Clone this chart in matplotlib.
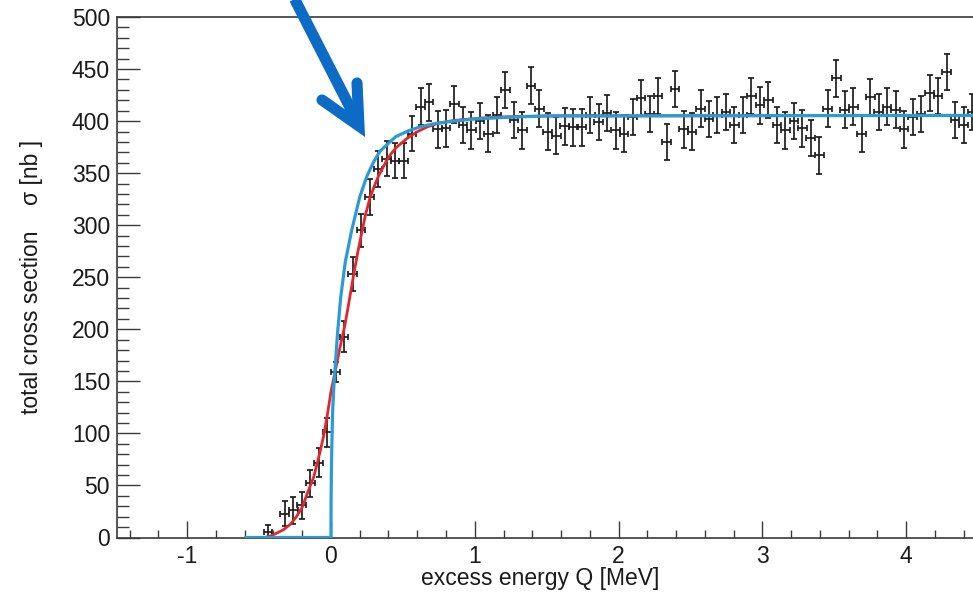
import matplotlib
matplotlib.use("Agg")
import matplotlib.pyplot as plt
from matplotlib.lines import Line2D
from matplotlib.ticker import MultipleLocator

plt.rcParams['font.family'] = ['Liberation Sans', 'DejaVu Sans']

# ---- data ----
q_points = [-0.439, -0.321, -0.262, -0.203, -0.144, -0.085, -0.026,
            0.033, 0.092, 0.151, 0.210, 0.269, 0.328, 0.387, 0.446, 0.505, 0.564,
            0.623, 0.682, 0.741, 0.800, 0.859, 0.918, 0.977, 1.036, 1.095, 1.154,
            1.213, 1.272, 1.331, 1.390, 1.449, 1.508, 1.567, 1.626, 1.685, 1.744,
            1.803, 1.862, 1.921, 1.980, 2.039, 2.098, 2.157, 2.216, 2.275, 2.334,
            2.393, 2.452, 2.511, 2.570, 2.629, 2.688, 2.747, 2.806, 2.865, 2.924,
            2.983, 3.042, 3.101, 3.160, 3.219, 3.278, 3.337, 3.396, 3.455, 3.514,
            3.573, 3.632, 3.691, 3.750, 3.809, 3.868, 3.927, 3.986, 4.045, 4.104,
            4.163, 4.222, 4.281, 4.340, 4.399, 4.458]
sigma_points = [5, 23, 26, 31, 52, 72, 101,
                159, 193, 253, 295, 327, 354, 364, 362, 362, 388,
                414, 418, 392, 393, 416, 396, 391, 400, 388, 406,
                430, 401, 391, 434, 412, 390, 386, 395, 394, 394,
                406, 399, 408, 391, 388, 404, 422, 407, 424, 380,
                431, 392, 390, 412, 402, 406, 409, 396, 406, 424,
                415, 420, 396, 391, 400, 393, 384, 367, 412, 441,
                411, 414, 388, 423, 409, 414, 411, 392, 404, 407,
                427, 424, 447, 401, 396, 409]
sigma_errors = [7, 12, 13, 13, 13, 14, 14,
                10, 15, 16, 16, 17, 17, 17, 17, 17, 17] + [17.5] * 66
bin_halfwidth = 0.03

# fitted curves
q_red = [-0.60, -0.46, -0.42, -0.38, -0.33, -0.28, -0.24, -0.20, -0.16, -0.12,
         -0.08, -0.05, -0.02, 0.0, 0.033, 0.065, 0.097, 0.125, 0.155, 0.185,
         0.213, 0.24, 0.271, 0.30, 0.33, 0.36, 0.387, 0.42, 0.457, 0.526,
         0.596, 0.67, 0.75, 0.85, 0.96, 1.1, 1.3, 1.6, 4.6]
sigma_red = [0, 0, 1.5, 4, 7.5, 13, 20, 29, 44, 58,
             80, 98, 122, 140, 162, 184, 204, 226, 250, 273,
             292, 310, 326, 337, 347, 355, 362, 369, 375, 383,
             389.5, 394.5, 398, 400.5, 402, 403.5, 404.5, 405, 405.5]

q_blue = [-0.59, 0.0, 0.001, 0.003, 0.006, 0.012, 0.02, 0.028, 0.045, 0.068,
          0.10, 0.144, 0.20, 0.25, 0.294, 0.34, 0.387, 0.45, 0.536, 0.62,
          0.72, 0.85, 1.0, 1.2, 1.5, 2.0, 4.6]
sigma_blue = [0, 0, 37, 63, 88, 122, 145, 160, 195, 231,
              265, 295, 327, 347, 360, 371, 377, 385, 390.5, 394.5,
              397.5, 400, 402, 403.5, 405, 405, 405.5]

x_major = [-1, 0, 1, 2, 3, 4]
x_major_labels = ['-1', '0', '1', '2', '3', '4']
y_major = [0, 50, 100, 150, 200, 250, 300, 350, 400, 450, 500]

# ---- figure ----
W, H = 973, 594
fig = plt.figure(figsize=(W / 100, H / 100), dpi=100)
ax = fig.add_axes([116.7 / W, (H - 537.5) / H, 1 - 116.7 / W, (537.5 - 17) / H])

axis_col = '#3a3a3a'
ax.errorbar(q_points, sigma_points, xerr=bin_halfwidth, yerr=sigma_errors,
            fmt='none', ecolor='#1e1e1e', elinewidth=1.25, capsize=2.2,
            capthick=1.25, zorder=2)
ax.plot(q_red, sigma_red, color='#e3262b', lw=2.0, zorder=3,
        solid_capstyle='butt')
ax.plot(q_blue, sigma_blue, color='#2b9bd8', lw=2.3, zorder=4,
        solid_joinstyle='round')

ax.set_xlim(-1.49, 4.465)
ax.set_ylim(0, 500)
ax.set_xticks(x_major)
ax.set_xticklabels(x_major_labels)
ax.set_yticks(y_major)
ax.xaxis.set_minor_locator(MultipleLocator(0.2))
ax.yaxis.set_minor_locator(MultipleLocator(10))

ax.tick_params(axis='x', which='major', direction='in', length=12.2, width=1.0,
               color=axis_col, labelsize=16.5, pad=5.2, top=False)
ax.tick_params(axis='x', which='minor', direction='in', length=6.0, width=1.0,
               color=axis_col, top=False)
ax.tick_params(axis='y', which='major', direction='in', length=16.5, width=1.0,
               color=axis_col, labelsize=16.5, pad=4.8, right=False)
ax.tick_params(axis='y', which='minor', direction='in', length=8.6, width=1.0,
               color=axis_col, right=False)
for lbl in ax.get_xticklabels() + ax.get_yticklabels():
    lbl.set_color('#1a1a1a')

for s in ['left', 'bottom', 'top']:
    ax.spines[s].set_color(axis_col)
    ax.spines[s].set_linewidth(1.2)
ax.spines['right'].set_visible(False)


def px(x, y):
    return x / W, 1 - y / H


fig.text(*px(540, 579), 'excess energy Q [MeV]', ha='center', va='center',
         fontsize=16.5, color='#1a1a1a')
fig.text(*px(32, 277), 'total cross section    \u03c3 [nb ]', ha='center',
         va='center', rotation=90, fontsize=16.5, color='#1a1a1a')

# blue annotation arrow (figure pixel coordinates)
arrow_col = '#0b6bc5'
sx0, sy0 = px(291, -8)
sx1, sy1 = px(357, 121)
fig.add_artist(Line2D([sx0, sx1], [sy0, sy1], color=arrow_col, lw=8.0,
                      solid_capstyle='butt', transform=fig.transFigure,
                      clip_on=False))
hx = [px(322, 100)[0], px(359, 126)[0], px(357, 83)[0]]
hy = [px(322, 100)[1], px(359, 126)[1], px(357, 83)[1]]
fig.add_artist(Line2D(hx, hy, color=arrow_col, lw=8.0, solid_capstyle='round',
                      solid_joinstyle='miter', transform=fig.transFigure,
                      clip_on=False))

fig.savefig('out.png', dpi=100)
